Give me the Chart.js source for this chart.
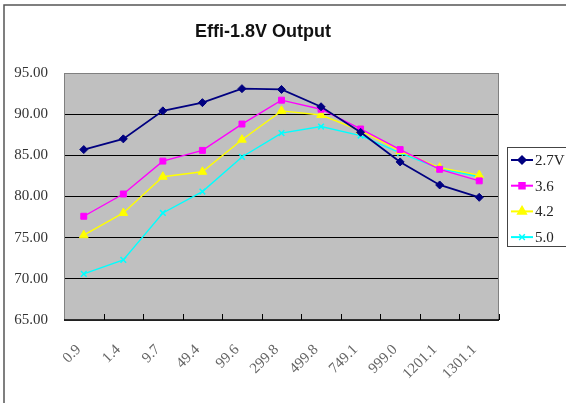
<!DOCTYPE html>
<html>
<head>
<meta charset="utf-8">
<script src="https://cdn.jsdelivr.net/npm/chart.js@4.4.1/dist/chart.umd.min.js"></script>
<style>
  html, body { margin: 0; padding: 0; background: #fff; }
  #wrap { width: 566px; height: 403px; }
</style>
</head>
<body>
<div id="wrap"><canvas id="chart" width="566" height="403"></canvas></div>
<script>
const chartTitle = "Effi-1.8V Output";
const categories = ["0.9", "1.4", "9.7", "49.4", "99.6", "299.8", "499.8", "749.1", "999.0", "1201.1", "1301.1"];
const seriesLabels = ["2.7V", "3.6", "4.2", "5.0"];
const v27 = [85.7, 87.0, 90.4, 91.4, 93.1, 93.0, 90.9, 87.8, 84.2, 81.4, 79.9];
const v36 = [77.6, 80.3, 84.3, 85.6, 88.8, 91.7, 90.6, 88.2, 85.7, 83.3, 81.9];
const v42 = [75.3, 78.0, 82.4, 83.0, 86.9, 90.4, 89.9, 88.0, 85.5, 83.5, 82.6];
const v50 = [70.6, 72.3, 78.0, 80.6, 84.8, 87.7, 88.5, 87.4, 85.3, 83.4, 82.4];
const yTicks = [65, 70, 75, 80, 85, 90, 95];

const colors = ["#000080", "#ff00ff", "#ffff00", "#00ffff"];
const markers = ["rectRot", "rect", "triangle", "crossRot"];
const values = [v27, v36, v42, v50];

// grey plot background, outer frame, title, inward x ticks
const framePlugin = {
  id: "frame",
  beforeDraw(chart) {
    const { ctx, chartArea: a } = chart;
    ctx.save();
    ctx.fillStyle = "#c0c0c0";
    ctx.fillRect(a.left, a.top, a.right - a.left, a.bottom - a.top);
    // outer chart frame
    ctx.strokeStyle = "#555";
    ctx.lineWidth = 1.5;
    ctx.beginPath();
    ctx.moveTo(4, 403);
    ctx.lineTo(4, 5);
    ctx.lineTo(566, 5);
    ctx.stroke();
    // title, centred over the plot
    ctx.fillStyle = "#111";
    ctx.font = "bold 18px 'Liberation Sans', Arial, sans-serif";
    ctx.textAlign = "center";
    ctx.textBaseline = "middle";
    ctx.fillText(chartTitle, 263, 32);
    ctx.restore();
  },
  afterDatasetsDraw(chart) {
    const { ctx, chartArea: a } = chart;
    const x = chart.scales.x;
    ctx.save();
    ctx.strokeStyle = "#808080";
    ctx.lineWidth = 1;
    ctx.strokeRect(a.left + 0.5, a.top + 0.5, a.right - a.left - 1, a.bottom - a.top);
    ctx.strokeStyle = "#000";
    ctx.lineWidth = 1.5;
    ctx.beginPath();
    ctx.moveTo(a.left, a.bottom);
    ctx.lineTo(a.right, a.bottom);
    ctx.stroke();
    ctx.lineWidth = 1;
    const n = categories.length;
    const half = (x.getPixelForValue(1) - x.getPixelForValue(0)) / 2;
    for (let i = 1; i <= n; i++) {
      const px = Math.round(x.getPixelForValue(i - 1) + half) + 0.5;
      ctx.beginPath();
      ctx.moveTo(px, a.bottom);
      ctx.lineTo(px, a.bottom - 6);
      ctx.stroke();
    }
    ctx.restore();
  }
};

// boxed legend with line + marker samples
const legendPlugin = {
  id: "boxLegend",
  afterDraw(chart) {
    const { ctx } = chart;
    ctx.save();
    ctx.fillStyle = "#fff";
    ctx.strokeStyle = "#444";
    ctx.lineWidth = 1;
    ctx.fillRect(507.5, 147.5, 70, 99);
    ctx.strokeRect(507.5, 147.5, 70, 99);
    chart.data.datasets.forEach((ds, i) => {
      const y = 160 + i * 25.7;
      ctx.strokeStyle = ds.borderColor;
      ctx.fillStyle = ds.borderColor;
      ctx.lineWidth = 2;
      ctx.beginPath();
      ctx.moveTo(511, y);
      ctx.lineTo(533, y);
      ctx.stroke();
      ctx.lineWidth = 1.5;
      Chart.helpers.drawPoint(ctx, {
        pointStyle: ds.pointStyle, radius: ds.pointRadius, borderWidth: 1.5
      }, 522, y);
      ctx.fillStyle = "#222";
      ctx.font = "15px 'Liberation Serif', serif";
      ctx.textBaseline = "middle";
      ctx.textAlign = "left";
      ctx.fillText(ds.label, 535, y + 1);
    });
    ctx.restore();
  }
};

const datasets = seriesLabels.map((label, i) => ({
  label,
  data: values[i],
  borderColor: colors[i],
  backgroundColor: colors[i],
  pointBackgroundColor: colors[i],
  pointBorderColor: colors[i],
  borderWidth: i === 0 ? 1.8 : 1.4,
  pointStyle: markers[i],
  pointRadius: markers[i] === "triangle" ? 5 : (markers[i] === "rect" ? 4.2 : 4),
  pointBorderWidth: markers[i] === "crossRot" ? 1.5 : 1,
  tension: 0
}));

new Chart(document.getElementById("chart"), {
  type: "line",
  data: { labels: categories, datasets },
  options: {
    responsive: false,
    animation: false,
    layout: { padding: { left: 0, right: 67, top: 73, bottom: 0 } },
    plugins: {
      legend: { display: false },
      tooltip: { enabled: false },
      title: { display: false }
    },
    scales: {
      x: {
        offset: true,
        grid: { display: false, drawTicks: false },
        border: { display: false },
        ticks: {
          minRotation: 45,
          maxRotation: 45,
          padding: 21,
          labelOffset: -5,
          color: "#666",
          font: { family: "'Liberation Serif', serif", size: 15 }
        },
        afterFit(scale) { scale.height = 83; }
      },
      y: {
        min: 65,
        max: 95,
        afterBuildTicks(scale) { scale.ticks = yTicks.map(v => ({ value: v })); },
        grid: { color: "#000", lineWidth: 1, drawTicks: false },
        border: { display: false },
        ticks: {
          padding: 16,
          color: "#333",
          font: { family: "'Liberation Serif', serif", size: 15 },
          callback: v => Number(v).toFixed(2)
        },
        afterFit(scale) { scale.width = 64; }
      }
    }
  },
  plugins: [framePlugin, legendPlugin]
});
</script>
</body>
</html>
